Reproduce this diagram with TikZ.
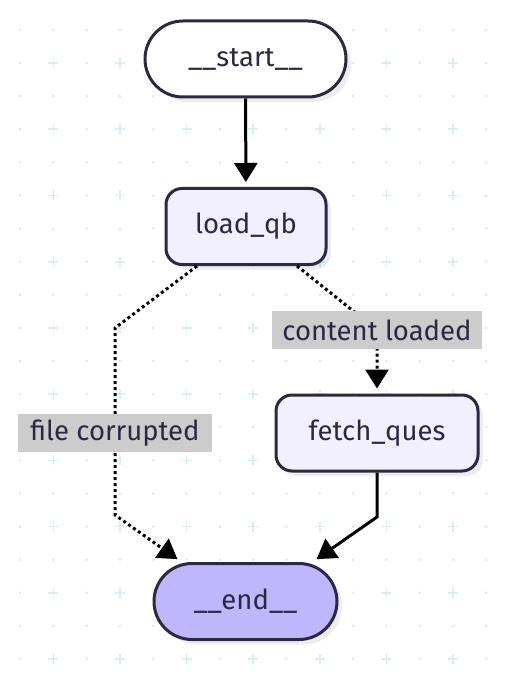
\documentclass[tikz,border=0pt]{standalone}
\usepackage{fontspec}
\setmainfont{Fira Sans}
\usetikzlibrary{arrows.meta,shadows}

\definecolor{ink}{HTML}{2B2841}
\definecolor{boxfill}{HTML}{F2F0FF}
\definecolor{endfill}{HTML}{BFB6FC}
\definecolor{gridteal}{HTML}{D8EEF0}
\definecolor{lblgray}{HTML}{CCCCCC}

\begin{document}
\begin{tikzpicture}[x=1pt, y=-1pt,
  every node/.style = {font=\fontsize{27.5}{32}\selectfont, text=ink},
  state/.style = {shape=rectangle, draw=ink, line width=3pt,
    rounded corners=16pt, fill=boxfill, minimum height=76pt, inner sep=0pt,
    drop shadow={shadow xshift=5pt, shadow yshift=-5pt,
      fill=black, opacity=0.07}},
  terminal/.style = {state, rounded corners=38pt},
  lbl/.style = {fill=lblgray, inner sep=0pt, minimum height=38pt},
  flow/.style = {line width=3pt, -{Triangle[length=19pt,width=23pt]},
    shorten >=5pt},
  maybe/.style = {flow, dash pattern=on 3pt off 3pt}]
  \useasboundingbox[fill=white] (0,0) rectangle (515,676);

  % dotted background
  \foreach \i in {0,...,14}
    \foreach \j in {0,...,19} {
      \pgfmathtruncatemacro{\odd}{and(isodd(\i),isodd(\j))}
      \ifnum\odd=1
        \draw[gridteal, line width=1.6pt]
          (20+33.3*\i-5,30+33.1*\j) -- ++(10,0)
          (20+33.3*\i,30+33.1*\j-5) -- ++(0,10);
      \else
        \fill[gridteal] (20+33.3*\i,30+33.1*\j) circle (1.5pt);
      \fi
    }

  \node[terminal, fill=white, minimum width=201pt] (start) at (245.5,59) {\_\_start\_\_};
  \node[state, minimum width=160pt] (load_qb) at (246,226.5) {load\_qb};
  \node[state, minimum width=202pt] (fetch_ques) at (377,433) {fetch\_ques};
  \node[terminal, fill=endfill, minimum width=183pt] (end) at (245.5,601.5) {\_\_end\_\_};

  \draw[flow] (start) -- (load_qb);
  \draw[maybe] ([xshift=51pt]load_qb.south) -- (377,330)
    node[lbl, minimum width=210pt] {content loaded} -- (fetch_ques);
  \draw[maybe] ([xshift=-49pt]load_qb.south) -- (115,328)
    -- node[lbl, pos=0.56, minimum width=194pt] {file corrupted} (115,515)
    -- ([xshift=-64pt]end.north);
  \draw[flow] (fetch_ques) -- (377,517) -- ([xshift=67pt]end.north);
\end{tikzpicture}
\end{document}
